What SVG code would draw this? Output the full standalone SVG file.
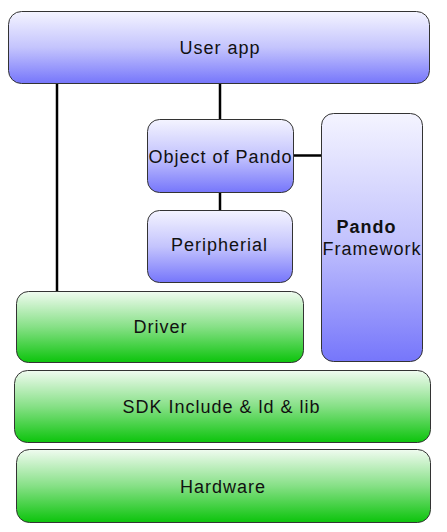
<svg xmlns="http://www.w3.org/2000/svg" width="447" height="532" viewBox="0 0 447 532">
<defs>
<linearGradient id="gb" x1="0" y1="0" x2="0" y2="1">
<stop offset="0" stop-color="#f4f4ff"/>
<stop offset="0.5" stop-color="#c4c4fd"/>
<stop offset="1" stop-color="#7676fb"/>
</linearGradient>
<linearGradient id="gg" x1="0" y1="0" x2="0" y2="1">
<stop offset="0" stop-color="#f0fbf0"/>
<stop offset="0.5" stop-color="#86e086"/>
<stop offset="1" stop-color="#0cc40c"/>
</linearGradient>
<style>
.b{fill:url(#gb);stroke:#333;stroke-width:1}
.g{fill:url(#gg);stroke:#333;stroke-width:1}
text{font-family:"Liberation Sans",Arial,sans-serif;font-size:18px;letter-spacing:1px;fill:#111;text-anchor:middle}
.c line{stroke:#000;stroke-width:2.5}
</style>
</defs>
<g class="c" id="connectors">
<line x1="57" y1="84" x2="57" y2="291"/>
<line x1="220" y1="84" x2="220" y2="120"/>
<line x1="220" y1="193" x2="220" y2="211"/>
<line x1="293" y1="155.5" x2="321" y2="155.5"/>
</g>
<g id="user-app"><rect class="b" x="8.5" y="11.5" width="421" height="72" rx="13"/><text x="220" y="54">User app</text></g>
<g id="object-of-pando"><rect class="b" x="147.5" y="119.5" width="146" height="73" rx="12"/><text x="220.5" y="163">Object of Pando</text></g>
<g id="pando-framework"><rect class="b" x="321.5" y="113.5" width="101" height="248" rx="12"/><text x="366.5" y="233" font-weight="bold">Pando</text><text x="372" y="255">Framework</text></g>
<g id="peripherial"><rect class="b" x="147.5" y="210.5" width="145" height="72" rx="12"/><text x="219.5" y="251">Peripherial</text></g>
<g id="driver"><rect class="g" x="16.5" y="291.5" width="287" height="71" rx="12"/><text x="160.5" y="333">Driver</text></g>
<g id="sdk"><rect class="g" x="14.5" y="370.5" width="416" height="72" rx="13"/><text x="221.5" y="413">SDK Include &amp; ld &amp; lib</text></g>
<g id="hardware"><rect class="g" x="16.5" y="449.5" width="414" height="73" rx="13"/><text x="223" y="493">Hardware</text></g>
</svg>
